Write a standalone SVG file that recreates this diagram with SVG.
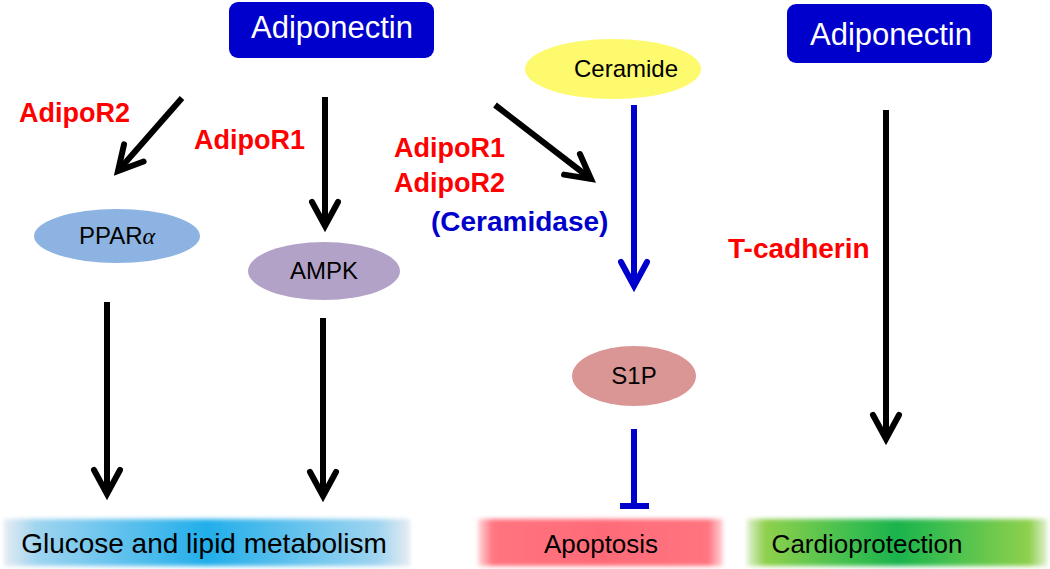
<svg xmlns="http://www.w3.org/2000/svg" width="1050" height="569" viewBox="0 0 1050 569">
<style>
text{font-family:"Liberation Sans",Arial,Helvetica,sans-serif}
.box{fill:#0000cc}
.boxt{fill:#fff;font-size:31px;text-anchor:middle}
.nt{fill:#000;font-size:24px;text-anchor:middle}
.lab{fill:#ff0000;font-size:27px;font-weight:bold}
.blab{fill:#0000cc;font-size:28px;font-weight:bold}
.bt{fill:#000;font-size:28px;text-anchor:middle}
.k{stroke:#000;stroke-width:6;fill:none}
.b{stroke:#0000cc;stroke-width:6;fill:none}
</style>
<defs>
<marker id="ak" markerUnits="userSpaceOnUse" viewBox="-30 -16 34 32" markerWidth="34" markerHeight="32" refX="0" refY="0" orient="auto" overflow="visible">
<path d="M-24,-13 L0,0 L-24,13" fill="none" stroke="#000" stroke-width="6" stroke-linecap="round" stroke-linejoin="miter"/>
</marker>
<marker id="ab" markerUnits="userSpaceOnUse" viewBox="-30 -16 34 32" markerWidth="34" markerHeight="32" refX="0" refY="0" orient="auto" overflow="visible">
<path d="M-24,-13 L0,0 L-24,13" fill="none" stroke="#0000cc" stroke-width="6" stroke-linecap="round" stroke-linejoin="miter"/>
</marker>
<linearGradient id="gBlue" x1="0" x2="1" y1="0" y2="0">
<stop offset="0" stop-color="#e6ecf2"/>
<stop offset="0.08" stop-color="#9fd4f0"/>
<stop offset="0.5" stop-color="#22aeea"/>
<stop offset="0.92" stop-color="#9fd4f0"/>
<stop offset="1" stop-color="#e6ecf2"/>
</linearGradient>
<linearGradient id="gRed" x1="0" x2="1" y1="0" y2="0">
<stop offset="0" stop-color="#ffd6d9"/>
<stop offset="0.06" stop-color="#ff7480"/>
<stop offset="0.5" stop-color="#ff6b78"/>
<stop offset="0.94" stop-color="#ff7480"/>
<stop offset="1" stop-color="#ffd6d9"/>
</linearGradient>
<linearGradient id="gGreen" x1="0" x2="1" y1="0" y2="0">
<stop offset="0" stop-color="#dff0cf"/>
<stop offset="0.06" stop-color="#8fd04e"/>
<stop offset="0.35" stop-color="#3fbf4f"/>
<stop offset="0.5" stop-color="#1bb34e"/>
<stop offset="0.65" stop-color="#3fbf4f"/>
<stop offset="0.94" stop-color="#8fd04e"/>
<stop offset="1" stop-color="#dff0cf"/>
</linearGradient>
<filter id="soft" x="-5%" y="-20%" width="110%" height="140%">
<feGaussianBlur stdDeviation="2"/>
</filter>
</defs>

<g id="adiponectin1">
<rect class="box" x="229" y="2" width="205" height="56" rx="9"/>
<text class="boxt" x="332" y="38">Adiponectin</text>
</g>
<g id="adiponectin2">
<rect class="box" x="787" y="4" width="205" height="59" rx="9"/>
<text class="boxt" x="891" y="45">Adiponectin</text>
</g>
<g id="ceramide">
<ellipse cx="613" cy="69" rx="88" ry="30" fill="#fdfa6e"/>
<text class="nt" x="626" y="77">Ceramide</text>
</g>
<g id="ppara">
<ellipse cx="117" cy="236" rx="83" ry="27" fill="#8db3e2"/>
<text class="nt" x="117" y="244">PPAR<tspan font-family="'Liberation Serif',serif" font-style="italic">α</tspan></text>
</g>
<g id="ampk">
<ellipse cx="324" cy="271" rx="76" ry="29" fill="#b3a2c7"/>
<text class="nt" x="324" y="279">AMPK</text>
</g>
<g id="s1p">
<ellipse cx="634" cy="376" rx="62" ry="30" fill="#d99694"/>
<text class="nt" x="634" y="384">S1P</text>
</g>
<g id="glucose">
<rect x="4" y="519" width="406" height="47" fill="url(#gBlue)" filter="url(#soft)"/>
<text class="bt" x="204" y="553" font-size="28.5">Glucose and lipid metabolism</text>
</g>
<g id="apoptosis">
<rect x="478" y="519" width="245" height="47" fill="url(#gRed)" filter="url(#soft)"/>
<text class="bt" x="601" y="553" style="font-size:26px">Apoptosis</text>
</g>
<g id="cardioprotection">
<rect x="747" y="519" width="300" height="47" fill="url(#gGreen)" filter="url(#soft)"/>
<text class="bt" x="867" y="553" style="font-size:26px">Cardioprotection</text>
</g>

<g id="labels">
<text class="lab" x="19" y="122">AdipoR2</text>
<text class="lab" x="194" y="149">AdipoR1</text>
<text class="lab" x="394" y="157">AdipoR1</text>
<text class="lab" x="394" y="192">AdipoR2</text>
<text class="blab" x="431" y="231">(Ceramidase)</text>
<text class="lab" x="728" y="258" style="font-size:28px">T-cadherin</text>
</g>

<g id="connectors">
<line class="k" x1="182" y1="98" x2="118" y2="171" marker-end="url(#ak)"/>
<line class="k" x1="325" y1="97" x2="325" y2="226" marker-end="url(#ak)"/>
<line class="k" x1="495" y1="105" x2="591" y2="179" marker-end="url(#ak)"/>
<line class="b" x1="634" y1="105" x2="634" y2="286" marker-end="url(#ab)"/>
<line class="k" x1="107" y1="302" x2="107" y2="494" marker-end="url(#ak)"/>
<line class="k" x1="323" y1="318" x2="323" y2="496" marker-end="url(#ak)"/>
<line class="k" x1="886" y1="110" x2="886" y2="439" marker-end="url(#ak)"/>
<line class="b" x1="634" y1="429" x2="634" y2="506"/>
<line class="b" x1="620" y1="506" x2="649" y2="506"/>
</g>
</svg>
